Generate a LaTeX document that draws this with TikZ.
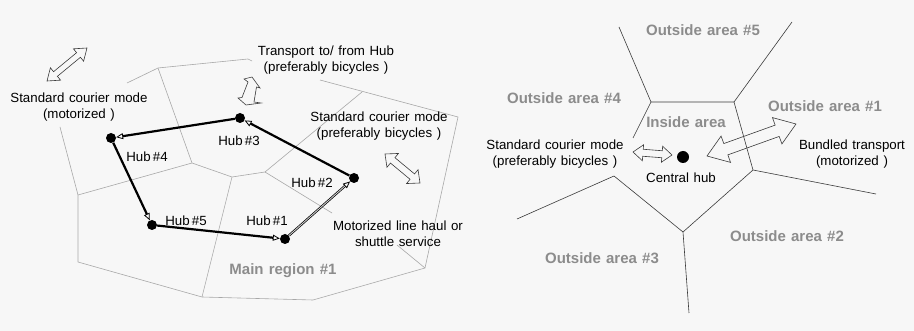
\documentclass[tikz,border=0pt]{standalone}
\usepackage{fontspec}
\setmainfont{Liberation Sans}[WordSpace=1.25]
\usetikzlibrary{calc,arrows.meta}
\definecolor{bg}{HTML}{F7F7F7}
\definecolor{regline}{HTML}{A8A8A8}
\definecolor{darkline}{HTML}{3A3A3A}
\definecolor{areatext}{HTML}{8C8C8C}
\newcommand\dblarrow[5]{%
  \draw[harrow] (#1) -- ($(#1)!#5!(#2)!#4!90:(#2)$) -- ($(#1)!#5!(#2)!#3!90:(#2)$)
    -- ($(#2)!#5!(#1)!#3!-90:(#1)$) -- ($(#2)!#5!(#1)!#4!-90:(#1)$) -- (#2)
    -- ($(#2)!#5!(#1)!#4!90:(#1)$) -- ($(#2)!#5!(#1)!#3!90:(#1)$)
    -- ($(#1)!#5!(#2)!#3!-90:(#2)$) -- ($(#1)!#5!(#2)!#4!-90:(#2)$) -- cycle;}
\tikzset{
  reg/.style={draw=regline, line width=0.6pt},
  voronoi/.style={draw=darkline, line width=0.6pt},
  harrow/.style={draw=darkline, line width=0.6pt, line join=miter},
  lbl/.style={font=\fontsize{13.3}{16}\selectfont, align=center, inner sep=1pt, text=black},
  area/.style={font=\bfseries\fontsize{15}{16}\selectfont, text=areatext, inner sep=1pt},
  hub/.style={circle, fill=black, minimum size=10pt, inner sep=0pt},
  harr/.style={draw=black, line width=2.2pt, -{Triangle[open, length=7pt, width=6pt, line width=0.8pt]}},
  harrdbl/.style={draw=black, line width=0.7pt, double=gray!40, double distance=0.9pt, -{Triangle[open, length=7pt, width=6pt, line width=0.8pt]}}
}
\begin{document}
\begin{tikzpicture}[x=1pt, y=-1pt]
\fill[bg] (0,0) rectangle (914,331);
\useasboundingbox (0,0) rectangle (914,331);

% ---------- left panel: regions ----------
\draw[reg] (127,83) -- (158,68) -- (248,59) -- (252,61);
\draw[reg] (320,80) -- (458,117) -- (425,268) -- (313,300) -- (202,297) -- (78,262) -- (78,195) -- (60,127);
\draw[reg] (397,245) -- (425,268);
\draw[reg] (158,68) -- (192,163);
\draw[reg] (78,195) -- (192,163) -- (232,177) -- (265,172) -- (362,92);
\draw[reg] (265,172) -- (332,213);
\draw[reg] (232,177) -- (202,297);

% hubs
\node[hub] (h1) at (285,239) {};
\node[hub] (h2) at (354,178) {};
\node[hub] (h3) at (240,118) {};
\node[hub] (h4) at (111,138) {};
\node[hub] (h5) at (152,225) {};

\draw[harr] (h3) -- (h4);
\draw[harr] (h2) -- (h3);
\draw[harr] (h4) -- (h5);
\draw[harr] (h5) -- (h1);
\draw[harrdbl] (h1) -- (h2);

\node[lbl] (l1) at (267,221) {Hub\,\#1};
\node[lbl] (l2) at (312,183) {Hub\,\#2};
\node[lbl] (l3) at (239,141) {Hub\,\#3};
\node[lbl] (l4) at (147,157) {Hub\,\#4};
\node[lbl] (l5) at (186,221) {Hub\,\#5};

\node[lbl] (t1) at (79,107.5) {Standard courier mode\\(motorized )};
\node[lbl] (t2) at (326,60) {Transport to/ from Hub\\(preferably bicycles )};
\node[lbl] (t3) at (379,126) {Standard courier mode\\(preferably bicycles )};
\node[lbl] (t4) at (398,234) {Motorized line haul or\\shuttle service};
\node[area] (mr) at (283,271) {Main region \#1};

% hollow arrows, left panel
\coordinate (a1s) at (47,81);
\coordinate (a1e) at (87,48);
\dblarrow{a1s}{a1e}{3pt}{8pt}{11pt}
\coordinate (a3s) at (385,154);
\coordinate (a3e) at (420,183);
\dblarrow{a3s}{a3e}{3.5pt}{9pt}{10pt}
\draw[harrow] (244,79) -- (252,77) -- (260,88) -- (256.5,87) -- (254,102) -- (261,103)
  -- (246,105) -- (238,98) -- (242,97.5) -- (248,82) -- cycle;

% ---------- right panel ----------
\draw[voronoi] (619,27) -- (651,102) -- (734,102) -- (792,22);
\draw[voronoi] (734,102) -- (753,170) -- (876,194);
\draw[voronoi] (753,170) -- (683,232) -- (689,313);
\draw[voronoi] (683,232) -- (614,176) -- (517,219);
\draw[voronoi] (651,102) -- (633,138);

\node[area] (o5) at (703,30) {Outside area \#5};
\node[area] (o4) at (564,98) {Outside area \#4};
\node[area] (ia) at (686,122) {Inside area};
\node[area] (o1) at (825,106) {Outside area \#1};
\node[area] (o2) at (787,236) {Outside area \#2};
\node[area] (o3) at (602,258) {Outside area \#3};

\node[circle, fill=black, minimum size=12pt, inner sep=0pt] (ch) at (683,157) {};
\node[lbl] (chl) at (681,178) {Central hub};
\node[lbl] (r1) at (555,154) {Standard courier mode\\(preferably bicycles )};
\node[lbl] (r2) at (852,154) {Bundled transport\\(motorized )};

\coordinate (a4s) at (633,152);
\coordinate (a4e) at (672,155);
\dblarrow{a4s}{a4e}{3.5pt}{8pt}{10pt}
\coordinate (a5s) at (707,156);
\coordinate (a5e) at (796,124);
\dblarrow{a5s}{a5e}{6pt}{14pt}{20pt}
\end{tikzpicture}
\end{document}
